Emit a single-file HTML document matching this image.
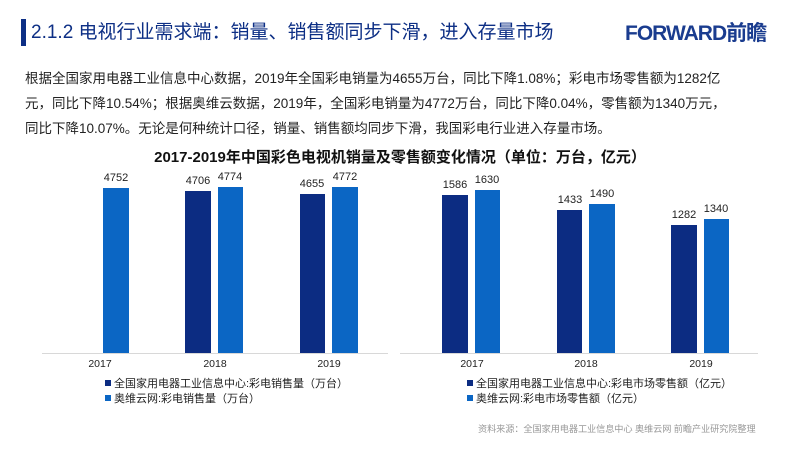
<!DOCTYPE html>
<html><head><meta charset="utf-8"><style>
body{margin:0;width:800px;height:450px;background:#fff;position:relative;overflow:hidden;font-family:"Liberation Sans","Noto Sans CJK SC",sans-serif}
.a{position:absolute;white-space:nowrap}
.b{position:absolute}
.d{background:#0c2c82}.l{background:#0b66c4}
.v{position:absolute;font-size:11px;color:#222;width:40px;text-align:center}
.y{position:absolute;font-size:10.5px;color:#222;width:40px;text-align:center;top:358px}
.lg{position:absolute;font-size:11px;color:#222}
.lg i{display:inline-block;width:6px;height:6px;margin-right:3px;vertical-align:1px}
</style></head><body>
<div class="b" style="left:21px;top:19px;width:5px;height:27px;background:#0d2f85"></div>
<div class="a" style="left:31px;top:20px;font-size:19px;color:#0d2f85;line-height:26px">2.1.2 电视行业需求端：销量、销售额同步下滑，进入存量市场</div>
<div class="a" style="left:625px;top:20px;font-size:21px;font-weight:bold;color:#1a3c8f;line-height:28px;letter-spacing:-1px">FORWARD前瞻</div>
<div class="a" style="left:25px;top:66px;font-size:13.5px;color:#222;line-height:25px">根据全国家用电器工业信息中心数据，2019年全国彩电销量为4655万台，同比下降1.08%；彩电市场零售额为1282亿<br>元，同比下降10.54%；根据奥维云数据，2019年，全国彩电销量为4772万台，同比下降0.04%，零售额为1340万元，<br>同比下降10.07%。无论是何种统计口径，销量、销售额均同步下滑，我国彩电行业进入存量市场。</div>
<div class="a" style="left:0;width:800px;text-align:center;top:146px;font-size:15px;font-weight:bold;color:#111">2017-2019年中国彩色电视机销量及零售额变化情况（单位：万台，亿元）</div>
<div class="b" style="left:42px;top:353px;width:346px;height:1px;background:#d8d8d8"></div>
<div class="b" style="left:400px;top:353px;width:358px;height:1px;background:#d8d8d8"></div>
<div class="b l" style="left:103px;top:188px;width:26px;height:165px"></div>
<div class="b d" style="left:185px;top:191px;width:26px;height:162px"></div>
<div class="b l" style="left:218px;top:187px;width:25px;height:166px"></div>
<div class="b d" style="left:300px;top:194px;width:25px;height:159px"></div>
<div class="b l" style="left:332px;top:187px;width:26px;height:166px"></div>
<div class="v" style="left:96px;top:172px">4752</div>
<div class="v" style="left:178px;top:175px">4706</div>
<div class="v" style="left:210px;top:171px">4774</div>
<div class="v" style="left:292px;top:178px">4655</div>
<div class="v" style="left:325px;top:171px">4772</div>
<div class="b d" style="left:442px;top:195px;width:26px;height:158px"></div>
<div class="b l" style="left:475px;top:190px;width:25px;height:163px"></div>
<div class="b d" style="left:557px;top:210px;width:25px;height:143px"></div>
<div class="b l" style="left:589px;top:204px;width:26px;height:149px"></div>
<div class="b d" style="left:671px;top:225px;width:26px;height:128px"></div>
<div class="b l" style="left:704px;top:219px;width:25px;height:134px"></div>
<div class="v" style="left:435px;top:179px">1586</div>
<div class="v" style="left:467px;top:174px">1630</div>
<div class="v" style="left:550px;top:194px">1433</div>
<div class="v" style="left:582px;top:188px">1490</div>
<div class="v" style="left:664px;top:209px">1282</div>
<div class="v" style="left:696px;top:203px">1340</div>
<div class="y" style="left:80px">2017</div><div class="y" style="left:195px">2018</div><div class="y" style="left:309px">2019</div>
<div class="y" style="left:452px">2017</div><div class="y" style="left:566px">2018</div><div class="y" style="left:681px">2019</div>
<div class="lg" style="left:105px;top:375px"><i class="d"></i>全国家用电器工业信息中心:彩电销售量（万台）</div>
<div class="lg" style="left:105px;top:390px"><i class="l"></i>奥维云网:彩电销售量（万台）</div>
<div class="lg" style="left:467px;top:375px"><i class="d"></i>全国家用电器工业信息中心:彩电市场零售额（亿元）</div>
<div class="lg" style="left:467px;top:390px"><i class="l"></i>奥维云网:彩电市场零售额（亿元）</div>
<div class="a" style="left:478px;top:421px;font-size:9.2px;color:#999;letter-spacing:-0.1px">资料来源：全国家用电器工业信息中心 奥维云网 前瞻产业研究院整理</div>
</body></html>
